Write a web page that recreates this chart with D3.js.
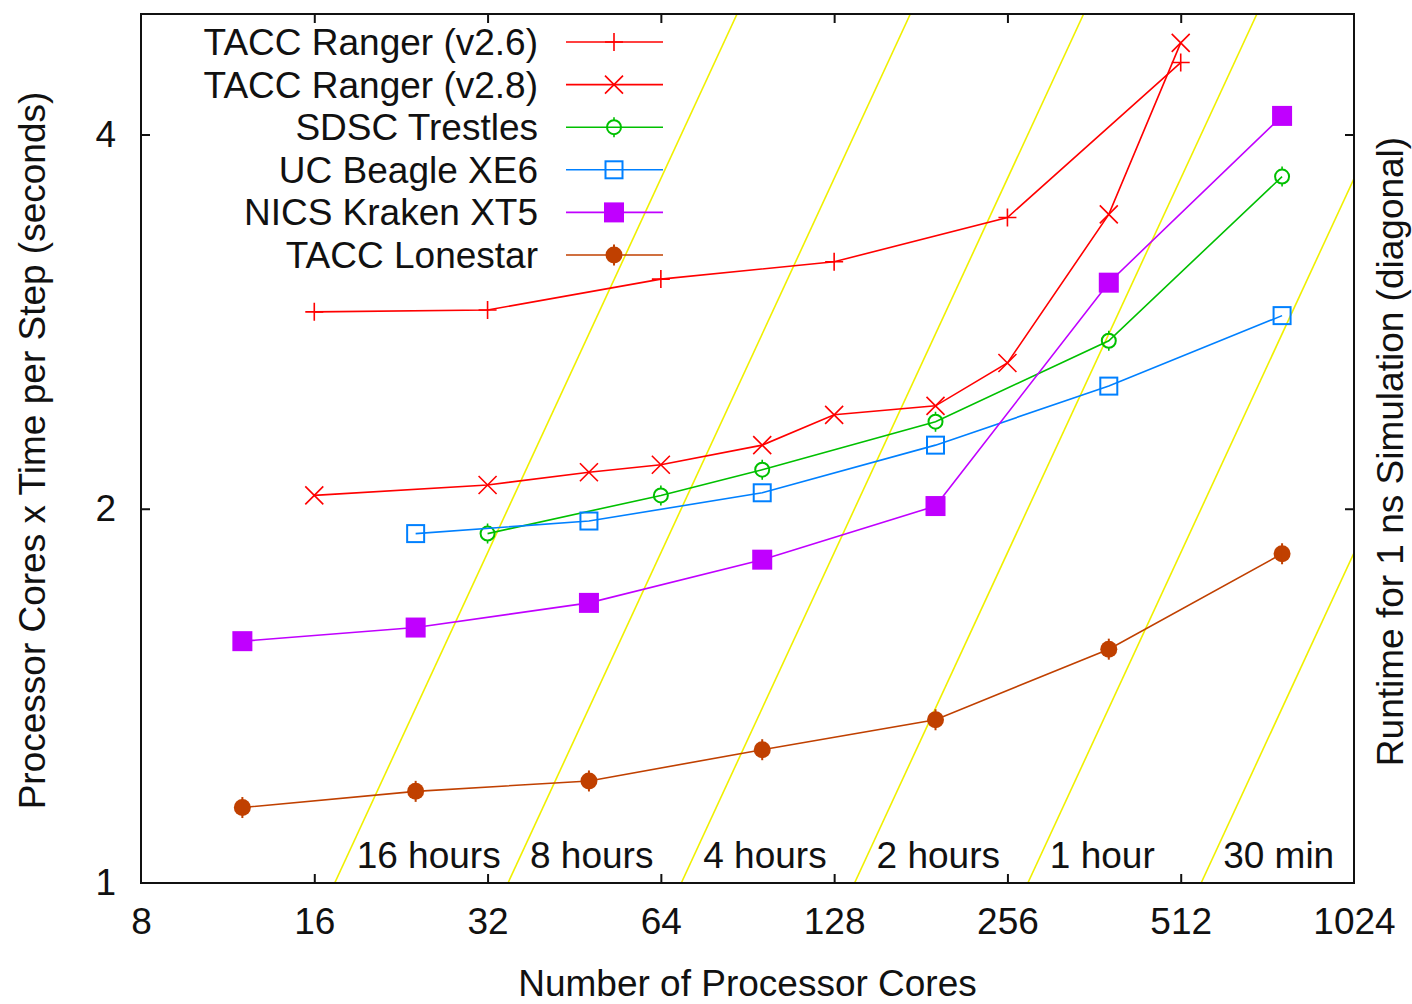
<!DOCTYPE html>
<html>
<head>
<meta charset="utf-8">
<script src="https://cdn.jsdelivr.net/npm/d3@7"></script>
<style>
  html, body { margin: 0; padding: 0; background: #fff; }
  svg { display: block; }
  text { font-family: "Liberation Sans", Arial, sans-serif; font-size: 37px; fill: #111; }
</style>
</head>
<body>
<svg id="chart" width="1412" height="1004"></svg>
<script>
// Benchmark: cores x time per step versus number of processor cores
const xTicks = [8, 16, 32, 64, 128, 256, 512, 1024];
const yTicks = [1, 2, 4];

const coresV26 = [16, 32, 64, 128, 256, 512];
const rangerV26 = [2.88, 2.89, 3.06, 3.16, 3.43, 4.57];

const coresV28 = [16, 32, 48, 64, 96, 128, 192, 256, 384, 512];
const rangerV28 = [2.05, 2.09, 2.14, 2.17, 2.25, 2.38, 2.42, 2.62, 3.45, 4.74];

const coresTrestles = [32, 64, 96, 192, 384, 768];
const trestles = [1.91, 2.05, 2.15, 2.35, 2.73, 3.70];

const coresBeagle = [24, 48, 96, 192, 384, 768];
const beagle = [1.91, 1.955, 2.06, 2.25, 2.51, 2.86];

const coresKraken = [12, 24, 48, 96, 192, 384, 768];
const kraken = [1.565, 1.605, 1.68, 1.82, 2.01, 3.04, 4.14];

const coresLonestar = [12, 24, 48, 96, 192, 384, 768];
const lonestar = [1.15, 1.185, 1.208, 1.28, 1.353, 1.542, 1.84];

// Constant-runtime diagonals (1 fs time step -> 1e6 steps per ns)
const stepsPerNs = 1e6;
const runtimeSeconds = [57600, 28800, 14400, 7200, 3600, 1800];
const runtimeLabels = ["16 hours", "8 hours", "4 hours", "2 hours", "1 hour", "30 min"];

const series = [
  { name: "TACC Ranger (v2.6)", cores: coresV26, values: rangerV26, color: "#ff0000", marker: "plus" },
  { name: "TACC Ranger (v2.8)", cores: coresV28, values: rangerV28, color: "#ff0000", marker: "cross" },
  { name: "SDSC Trestles", cores: coresTrestles, values: trestles, color: "#00c000", marker: "circle" },
  { name: "UC Beagle XE6", cores: coresBeagle, values: beagle, color: "#0080ff", marker: "square" },
  { name: "NICS Kraken XT5", cores: coresKraken, values: kraken, color: "#c000ff", marker: "squareFilled" },
  { name: "TACC Lonestar", cores: coresLonestar, values: lonestar, color: "#c04000", marker: "circleFilled" }
];

const plot = { left: 141, right: 1354, top: 14, bottom: 883 };

const svg = d3.select("#chart");

const x = d3.scaleLog().base(2).domain([8, 1024]).range([plot.left, plot.right]);
const y = d3.scaleLog().base(2).domain([1, 5]).range([plot.bottom, plot.top]);

svg.append("defs").append("clipPath").attr("id", "plotClip")
  .append("rect")
  .attr("x", plot.left).attr("y", plot.top)
  .attr("width", plot.right - plot.left).attr("height", plot.bottom - plot.top);

// Diagonal constant-runtime lines
const diag = svg.append("g").attr("clip-path", "url(#plotClip)");
runtimeSeconds.forEach(sec => {
  const ends = y.domain().map(v => [v * stepsPerNs / sec, v]);
  diag.append("path")
    .attr("d", d3.line().x(d => x(d[0])).y(d => y(d[1]))(ends))
    .attr("fill", "none")
    .attr("stroke", "#f0f000")
    .attr("stroke-width", 1.6);
});

// Runtime labels near the bottom of each diagonal
runtimeSeconds.forEach((sec, i) => {
  svg.append("text")
    .attr("x", x(stepsPerNs / sec) + 22)
    .attr("y", plot.bottom - 15)
    .text(runtimeLabels[i]);
});

// Marker drawing
function drawMarker(g, type, cx, cy, color) {
  switch (type) {
    case "plus":
      g.append("path").attr("d", `M${cx - 9},${cy}H${cx + 9}M${cx},${cy - 9}V${cy + 9}`)
        .attr("stroke", color).attr("stroke-width", 1.6).attr("fill", "none");
      break;
    case "cross":
      g.append("path").attr("d", `M${cx - 9},${cy - 9}L${cx + 9},${cy + 9}M${cx - 9},${cy + 9}L${cx + 9},${cy - 9}`)
        .attr("stroke", color).attr("stroke-width", 1.6).attr("fill", "none");
      break;
    case "circle":
      g.append("circle").attr("cx", cx).attr("cy", cy).attr("r", 7)
        .attr("stroke", color).attr("stroke-width", 2).attr("fill", "none");
      g.append("path").attr("d", `M${cx},${cy - 10}V${cy - 7}M${cx},${cy + 7}V${cy + 10}`)
        .attr("stroke", color).attr("stroke-width", 1.6);
      break;
    case "square":
      g.append("rect").attr("x", cx - 8.5).attr("y", cy - 8.5).attr("width", 17).attr("height", 17)
        .attr("stroke", color).attr("stroke-width", 2).attr("fill", "none");
      break;
    case "squareFilled":
      g.append("rect").attr("x", cx - 10).attr("y", cy - 10).attr("width", 20).attr("height", 20)
        .attr("fill", color);
      break;
    case "circleFilled":
      g.append("circle").attr("cx", cx).attr("cy", cy).attr("r", 8.5)
        .attr("fill", color);
      g.append("path").attr("d", `M${cx},${cy - 10.5}V${cy + 10.5}`)
        .attr("stroke", color).attr("stroke-width", 2);
      break;
  }
}

// Series lines and markers
const lineGen = d3.line().x(d => x(d[0])).y(d => y(d[1]));
series.forEach(s => {
  const pts = s.cores.map((c, i) => [c, s.values[i]]);
  const g = svg.append("g");
  g.append("path").attr("d", lineGen(pts))
    .attr("fill", "none").attr("stroke", s.color).attr("stroke-width", 1.6);
  pts.forEach(p => drawMarker(g, s.marker, x(p[0]), y(p[1]), s.color));
});

// Frame
svg.append("rect")
  .attr("x", plot.left).attr("y", plot.top)
  .attr("width", plot.right - plot.left).attr("height", plot.bottom - plot.top)
  .attr("fill", "none").attr("stroke", "#111").attr("stroke-width", 2);

// Axes with inward ticks (mirrored on top and right)
const tickLen = 9;
const axisBottom = d3.axisBottom(x).tickValues(xTicks).tickFormat(d3.format("d"))
  .tickSizeInner(-tickLen).tickSizeOuter(0).tickPadding(25);
const gx = svg.append("g").attr("transform", `translate(0,${plot.bottom})`).call(axisBottom);
const axisTop = d3.axisTop(x).tickValues(xTicks.slice(1, -1)).tickFormat("")
  .tickSizeInner(-tickLen).tickSizeOuter(0);
const gxt = svg.append("g").attr("transform", `translate(0,${plot.top})`).call(axisTop);

const axisLeft = d3.axisLeft(y).tickValues(yTicks).tickFormat(d3.format("d"))
  .tickSizeInner(-tickLen).tickSizeOuter(0).tickPadding(25);
const gy = svg.append("g").attr("transform", `translate(${plot.left},0)`).call(axisLeft);
const axisRight = d3.axisRight(y).tickValues(yTicks.slice(1)).tickFormat("")
  .tickSizeInner(-tickLen).tickSizeOuter(0);
const gyr = svg.append("g").attr("transform", `translate(${plot.right},0)`).call(axisRight);

[gx, gxt, gy, gyr].forEach(g => {
  g.select(".domain").remove();
  g.selectAll(".tick line").attr("stroke", "#111").attr("stroke-width", 2);
  g.selectAll(".tick text").attr("font-size", 37)
    .attr("font-family", "'Liberation Sans', Arial, sans-serif").attr("fill", "#111");
});
gx.selectAll(".tick line").filter(d => d === 8 || d === 1024).remove();
gy.selectAll(".tick line").filter(d => d === 1).remove();
gy.selectAll(".tick text").attr("dy", "0.32em");

// Axis titles
svg.append("text")
  .attr("x", (plot.left + plot.right) / 2).attr("y", 996)
  .attr("text-anchor", "middle")
  .text("Number of Processor Cores");

svg.append("text")
  .attr("transform", `translate(45,${(plot.top + plot.bottom) / 2 + 2}) rotate(-90)`)
  .attr("text-anchor", "middle")
  .text("Processor Cores x Time per Step (seconds)");

svg.append("text")
  .attr("transform", `translate(1403,${(plot.top + plot.bottom) / 2 + 3}) rotate(-90)`)
  .attr("text-anchor", "middle")
  .text("Runtime for 1 ns Simulation (diagonal)");

// Legend
const legend = svg.append("g");
series.forEach((s, i) => {
  const ly = 42 + i * 42.6;
  legend.append("text")
    .attr("x", 538).attr("y", ly + 13)
    .attr("text-anchor", "end")
    .text(s.name);
  legend.append("line")
    .attr("x1", 566).attr("x2", 663).attr("y1", ly).attr("y2", ly)
    .attr("stroke", s.color).attr("stroke-width", 1.6);
  drawMarker(legend, s.marker, 614, ly, s.color);
});
</script>
</body>
</html>
